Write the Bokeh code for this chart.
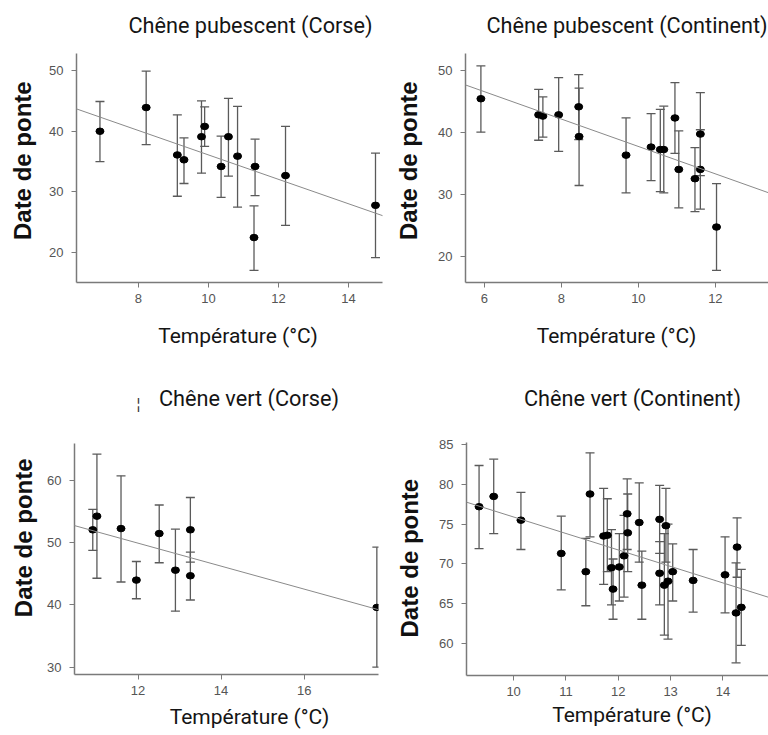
import math
from bokeh.plotting import figure
from bokeh.models import Whisker, TeeHead, ColumnDataSource, Slope, Range1d
from bokeh.layouts import column, row
from bokeh.core.properties import value
from bokeh.embed import file_html
from bokeh.resources import INLINE

# ---------------- data ----------------
titles = ["Chêne pubescent (Corse)", "Chêne pubescent (Continent)",
          "Chêne vert (Corse)", "Chêne vert (Continent)"]
x_label = "Température (°C)"
y_label = "Date de ponte"

# Chêne pubescent (Corse)
pc_temp = [6.90, 8.22, 9.11, 9.30, 9.80, 9.89, 10.36, 10.57, 10.83, 11.33, 11.30, 12.20, 14.77]
pc_date = [40.0, 43.9, 36.1, 35.3, 39.1, 40.8, 34.2, 39.1, 35.9, 34.2, 22.5, 32.7, 27.8]
pc_low = [35.0, 37.8, 29.3, 31.4, 33.1, 37.5, 29.1, 32.6, 27.5, 29.4, 17.1, 24.5, 19.2]
pc_high = [44.9, 49.9, 42.7, 38.9, 45.0, 44.0, 39.2, 45.4, 44.1, 38.7, 27.7, 40.8, 36.4]
pc_fit = (56.2, -2.01)
pc_xticks = [8, 10, 12, 14]
pc_yticks = [20, 30, 40, 50]

# Chêne pubescent (Continent)
pk_temp = [5.91, 7.41, 7.52, 7.93, 8.45, 8.46, 9.68, 10.33, 10.57, 10.66, 10.95, 11.05, 11.47, 11.61, 11.61, 12.03]
pk_date = [45.5, 42.9, 42.7, 42.9, 44.2, 39.4, 36.4, 37.7, 37.3, 37.3, 42.4, 34.1, 32.6, 39.8, 34.1, 24.8]
pk_low = [40.1, 38.8, 39.3, 37.0, 38.9, 31.5, 30.3, 32.3, 30.5, 30.3, 36.7, 27.9, 27.3, 33.1, 27.7, 17.8]
pk_high = [50.8, 47.0, 45.8, 48.9, 49.4, 47.2, 42.4, 43.1, 43.8, 44.3, 48.1, 40.3, 37.6, 46.5, 40.5, 31.8]
pk_fit = (59.9, -2.21)
pk_xticks = [6, 8, 10, 12]
pk_yticks = [20, 30, 40, 50]

# Chêne vert (Corse)
vc_temp = [10.91, 11.01, 11.59, 11.96, 12.51, 12.90, 13.26, 13.26, 17.75]
vc_date = [52.1, 54.3, 52.3, 44.0, 51.5, 45.6, 52.1, 44.7, 39.6]
vc_low = [48.8, 44.3, 43.7, 41.0, 46.8, 39.0, 46.9, 40.8, 30.0]
vc_high = [55.4, 64.3, 60.8, 47.0, 56.1, 52.2, 57.3, 48.5, 49.3]
vc_fit = (72.15, -1.85)
vc_xticks = [12, 14, 16]
vc_yticks = [30, 40, 50, 60]

# Chêne vert (Continent)
vk_temp = [9.34, 9.62, 10.14, 10.91, 11.38, 11.46, 11.72, 11.79, 11.87, 11.90, 12.02, 12.11, 12.17,
           12.18, 12.40, 12.45, 12.79, 12.79, 12.91, 12.88, 12.95, 13.04, 13.43, 14.04, 14.27, 14.25, 14.35]
vk_date = [77.2, 78.5, 75.5, 71.3, 69.0, 78.8, 73.5, 73.6, 69.5, 66.8, 69.6, 71.0, 76.3,
           73.9, 75.2, 67.3, 75.6, 68.8, 74.8, 67.3, 67.8, 69.0, 67.9, 68.6, 72.1, 63.8, 64.5]
vk_low = [71.9, 73.8, 71.8, 66.7, 64.7, 73.4, 67.4, 69.0, 64.8, 63.0, 65.3, 65.8, 71.8,
          69.0, 70.2, 63.0, 71.3, 64.8, 70.2, 61.0, 60.5, 65.3, 63.9, 63.8, 68.3, 57.5, 59.7]
vk_high = [82.4, 83.2, 79.0, 76.0, 73.2, 84.0, 79.5, 78.2, 74.3, 70.6, 73.8, 76.1, 80.7,
           78.8, 80.2, 71.6, 79.9, 72.8, 79.5, 73.8, 75.0, 72.5, 71.8, 73.4, 75.8, 70.1, 69.3]
vk_fit = (96.7, -2.08)
vk_xticks = [10, 11, 12, 13, 14]
vk_yticks = [60, 65, 70, 75, 80, 85]

# ---------------- drawing ----------------
AX = "#7a7a7a"
BAR = "#5a5a5a"
TXT = "#151515"
PANEL_W = 384
YLAB_W = 44
TOP_PAD = 8


def text_strip(w, h, items):
    """A figure whose frame is the whole canvas, used to hold free text."""
    p = figure(width=w, height=h, x_range=Range1d(0, w), y_range=Range1d(h, 0),
               min_border=0, toolbar_location=None, output_backend="svg",
               x_axis_location=None, y_axis_location=None)
    p.outline_line_color = None
    p.grid.visible = False
    for (tx, ty, txt, font, size, style, angle, color) in items:
        p.text(x=[tx], y=[ty], text=[txt], angle=angle, text_font=value(font),
               text_font_size=value(size), text_font_style=style, text_color=color,
               text_align="center", text_baseline="middle")
    return p


def plot_fig(temp, date, low, high, fit, xticks, yticks, xr, yr, w, h, borders):
    p = figure(width=w, height=h, x_range=Range1d(*xr), y_range=Range1d(*yr),
               output_backend="svg", toolbar_location=None,
               min_border_left=borders[0], min_border_right=borders[1],
               min_border_top=borders[2], min_border_bottom=borders[3])
    p.outline_line_color = None
    p.grid.visible = False
    for ax, t in ((p.xaxis, xticks), (p.yaxis, yticks)):
        ax.ticker = t
        ax.axis_line_color = AX
        ax.axis_line_width = 1.5
        ax.major_tick_line_color = AX
        ax.major_tick_out = 5
        ax.major_tick_in = 0
        ax.minor_tick_line_color = None
        ax.major_label_text_font = "Liberation Sans"
        ax.major_label_text_font_size = "13px"
        ax.major_label_text_color = "#555555"
    p.xaxis.major_label_standoff = 6
    p.yaxis.major_label_standoff = 8

    src = ColumnDataSource(dict(x=temp, y=date, lo=low, hi=high))
    p.add_layout(Slope(gradient=fit[1], y_intercept=fit[0], line_color="#8a8a8a", line_width=1))
    p.add_layout(Whisker(base="x", lower="lo", upper="hi", source=src,
                         line_color=BAR, line_width=1.3,
                         upper_head=TeeHead(size=9, line_color=BAR, line_width=1.3),
                         lower_head=TeeHead(size=9, line_color=BAR, line_width=1.3)))
    p.ellipse(x="x", y="y", width=8, height=6.5, width_units="screen", height_units="screen",
              color="black", source=src)
    return p


def panel(data, xr, yr, heights, frame_left, right_gap, bottom_gap, title, t_pos, xl_pos, yl_pos,
          extra=()):
    title_h, mid_h, xlab_h = heights
    temp, date, low, high, fit, xticks, yticks = data
    plot_w = PANEL_W - YLAB_W
    plot = plot_fig(temp, date, low, high, fit, xticks, yticks, xr, yr, plot_w, mid_h,
                    (frame_left - YLAB_W, right_gap, TOP_PAD, bottom_gap))
    t = text_strip(PANEL_W, title_h,
                   [(t_pos[0], t_pos[1], title, "Roboto", "21.7px", "normal", 0, TXT)] + list(extra))
    yl = text_strip(YLAB_W, mid_h,
                    [(yl_pos[0], yl_pos[1], y_label, "Liberation Sans", "24px", "bold",
                      math.pi / 2, "#111111")])
    xl = text_strip(PANEL_W, xlab_h,
                    [(xl_pos[0], xl_pos[1], x_label, "Roboto", "21px", "normal", 0, TXT)])
    return column(t, row(yl, plot), xl)


p1 = panel((pc_temp, pc_date, pc_low, pc_high, pc_fit, pc_xticks, pc_yticks),
           (6.23, 14.97), (15.1, 52.8), (45, 267, 72), 76, 2, 30,
           titles[0], (250, 25), (237.5, 23), (22, 125))
p2 = panel((pk_temp, pk_date, pk_low, pk_high, pk_fit, pk_xticks, pk_yticks),
           (5.51, 13.38), (15.85, 52.8), (45, 267, 72), 81, 0, 30,
           titles[1], (242.5, 25), (232, 23), (24, 125))
p3 = panel((vc_temp, vc_date, vc_low, vc_high, vc_fit, vc_xticks, vc_yticks),
           (10.47, 17.79), (28.8, 66.0), (51, 267, 33), 74, 6, 28,
           titles[2], (248.5, 14), (249, 14.5), (23, 109),
           extra=[(138, 19, "¦", "Liberation Sans", "15px", "normal", 0, "#333333")])
p4 = panel((vk_temp, vk_date, vk_low, vk_high, vk_fit, vk_xticks, vk_yticks),
           (9.10, 14.87), (55.9, 85.3), (50, 268, 33), 82, 0, 27,
           titles[3], (248, 14), (247.5, 12), (25, 133))

layout = column(row(p1, p2), row(p3, p4))
open("out.html", "w").write(file_html(layout, INLINE))
